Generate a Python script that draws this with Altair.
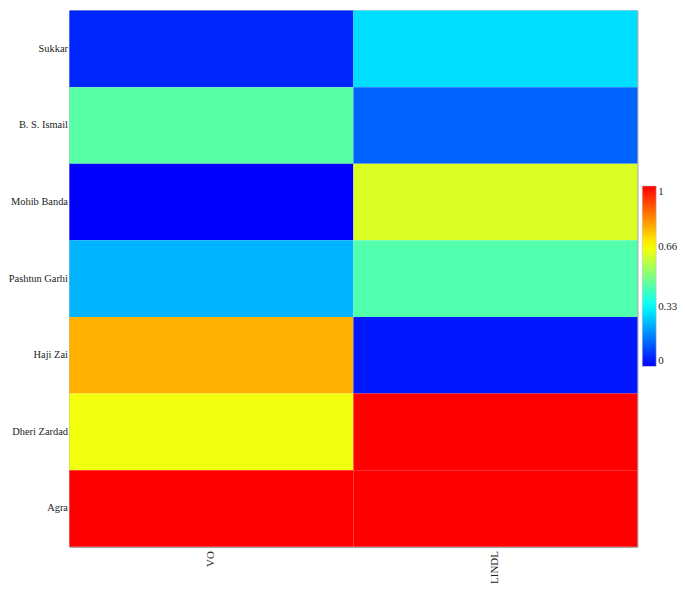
import altair as alt
import pandas as pd

sites = ["Sukkar", "B. S. Ismail", "Mohib Banda", "Pashtun Garhi", "Haji Zai", "Dheri Zardad", "Agra"]
metrics = ["VO", "LINDL"]
vo_values = [0.05, 0.45, 0.0, 0.235, 0.77, 0.65, 1.0]
lindl_values = [0.29, 0.13, 0.62, 0.44, 0.03, 1.0, 1.0]
legend_ticks = [0, 0.33, 0.66, 1]

rows = []
for s, v in zip(sites, vo_values):
    rows.append({"site": s, "metric": "VO", "value": v})
for s, v in zip(sites, lindl_values):
    rows.append({"site": s, "metric": "LINDL", "value": v})
df = pd.DataFrame(rows)

font = "Liberation Serif"

chart = alt.Chart(df).mark_rect().encode(
    x=alt.X("metric:N", sort=metrics, title=None,
            axis=alt.Axis(labelAngle=270, ticks=False, domain=False, labelFont=font,
                          labelFontSize=11, labelColor="#222", labelPadding=4)),
    y=alt.Y("site:N", sort=sites, title=None,
            axis=alt.Axis(ticks=False, domain=False, labelFont=font, labelFontSize=10.5,
                          labelColor="#222", labelPadding=2, labelLimit=200)),
    color=alt.Color("value:Q",
                    scale=alt.Scale(domain=[0, 1], range=["#0000ff", "#00ffff", "#ffff00", "#ff0000"],
                                    interpolate="rgb"),
                    legend=alt.Legend(title=None, orient="none", legendX=578, legendY=177,
                                      gradientLength=182, gradientThickness=14,
                                      values=legend_ticks, format=".2~f", labelFont=font,
                                      labelFontSize=11, labelColor="#222",
                                      gradientStrokeColor="#bbb", gradientStrokeWidth=0.5)),
).properties(
    width=573, height=541,
    autosize=alt.AutoSizeParams(type="none"),
    padding={"left": 62, "top": 0, "right": 40, "bottom": 35},
).configure_view(stroke="#888", strokeWidth=1).configure_scale(bandPaddingInner=0, bandPaddingOuter=0)

chart.save("out.html", embed_options={"renderer": "svg", "actions": False})
